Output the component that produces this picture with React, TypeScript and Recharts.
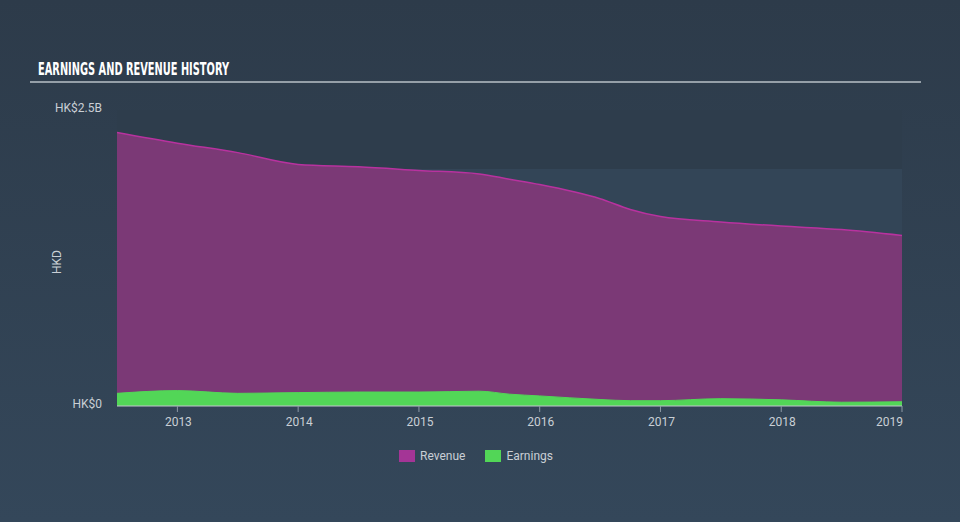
import React from 'react';
import { AreaChart, Area, XAxis, YAxis, CartesianGrid, Legend } from 'recharts';

// half-year points, values in HK$ billions
const periods = [2012.5, 2013, 2013.5, 2014, 2014.5, 2015, 2015.5, 2015.75, 2016, 2016.5, 2016.75, 2017, 2017.5, 2018, 2018.5, 2019];
const revenue = [2.31, 2.22, 2.14, 2.04, 2.02, 1.99, 1.96, 1.915, 1.87, 1.75, 1.66, 1.6, 1.555, 1.52, 1.49, 1.44];
const earnings = [0.107, 0.13, 0.107, 0.113, 0.118, 0.118, 0.125, 0.1, 0.085, 0.055, 0.045, 0.045, 0.062, 0.052, 0.032, 0.036];
const yearTicks = [2013, 2014, 2015, 2016, 2017, 2018, 2019];
const valueTicks = [0, 2.5];
const valueLabels = ['HK$0', 'HK$2.5B'];
const Y_MAX = 2.5;
const BAND_FROM = 2.0; // darker band at top of plot

const chartData = periods.map((t, i) => ({ t, revenue: revenue[i], earnings: earnings[i] }));

const REVENUE_FILL = '#7b3976';
const REVENUE_LINE = '#b8329f';
const EARNINGS_FILL = '#52d657';
const TEXT = '#c9cfd5';
const FONT = 'Roboto, "Open Sans", sans-serif';

const XTick = (props: any) => {
  const { x, y, payload, index } = props;
  const last = index === yearTicks.length - 1;
  return (
    <text x={x + 1} y={y + 12} textAnchor={last ? 'end' : 'middle'} fill={TEXT} fontSize={12} fontFamily={FONT}>
      {payload.value}
    </text>
  );
};

const YTick = (props: any) => {
  const { x, y, payload } = props;
  const i = valueTicks.indexOf(payload.value);
  return (
    <text x={x - 13} y={y + 2} textAnchor="end" fill={TEXT} fontSize={12} fontFamily={FONT}>
      {valueLabels[i]}
    </text>
  );
};

const LegendBox = () => (
  <div style={{ display: 'flex', justifyContent: 'center', alignItems: 'center', fontFamily: FONT, fontSize: 12, color: TEXT, paddingRight: 8 }}>
    <span style={{ width: 16, height: 12, background: '#a43596', display: 'inline-block', marginRight: 5 }} />
    <span style={{ marginRight: 20 }}>Revenue</span>
    <span style={{ width: 16, height: 12, background: EARNINGS_FILL, display: 'inline-block', marginRight: 5 }} />
    <span>Earnings</span>
  </div>
);

export default function App() {
  return (
    <div style={{ position: 'relative', width: 960, height: 522, background: 'linear-gradient(180deg, #2d3b4a 0%, #34475a 100%)' }}>
      <style>{`body{margin:0}`}</style>
      <svg width={960} height={100} style={{ position: 'absolute', left: 0, top: 0 }}>
        <text x={38} y={75} fill="#ffffff" fontSize={18} fontWeight="bold" fontFamily='"Liberation Sans Narrow", "DejaVu Sans Condensed", sans-serif' textLength={191} lengthAdjust="spacingAndGlyphs">
          EARNINGS AND REVENUE HISTORY
        </text>
        <line x1={30} x2={921} y1={82} y2={82} stroke="#b9c0c7" strokeWidth={1.5} />
      </svg>
      <div style={{ position: 'absolute', left: 0, top: 0 }}>
        <AreaChart width={960} height={522} data={chartData} margin={{ top: 110, right: 58, left: 0, bottom: 86 }}>
          <CartesianGrid
            vertical={false}
            stroke="none"
            horizontalFill={['#2e3d4c', '#334557']}
            fillOpacity={1}
            horizontalCoordinatesGenerator={(args: any) => {
              const o = args.offset;
              const toY = (v: number) => o.top + (1 - v / Y_MAX) * o.height;
              return [toY(Y_MAX), toY(BAND_FROM)];
            }}
          />
          <XAxis
            dataKey="t"
            type="number"
            domain={[2012.5, 2019]}
            ticks={yearTicks}
            tick={<XTick />}
            height={30}
            stroke="#c0c6cc"
            tickLine={{ stroke: '#8d99a5' }}
            tickSize={6}
            allowDataOverflow
          />
          <YAxis
            type="number"
            domain={[0, Y_MAX]}
            ticks={valueTicks}
            tick={<YTick />}
            width={117}
            axisLine={false}
            tickLine={false}
            tickSize={0}
            label={{
              content: () => (
                <text x={61} y={262} transform="rotate(-90 61 262)" textAnchor="middle" fill={TEXT} fontSize={12} fontFamily={FONT}>
                  HKD
                </text>
              ),
            }}
          />
          <Legend
            layout="horizontal"
            verticalAlign="middle"
            align="center"
            content={<LegendBox />}
            wrapperStyle={{ position: 'absolute', top: 449, left: 0, width: 960 }}
          />
          <Area type="monotone" dataKey="revenue" stroke={REVENUE_LINE} strokeWidth={1.5} fill={REVENUE_FILL} fillOpacity={1} isAnimationActive={false} />
          <Area type="monotone" dataKey="earnings" stroke={EARNINGS_FILL} strokeWidth={1} fill={EARNINGS_FILL} fillOpacity={1} isAnimationActive={false} />
        </AreaChart>
      </div>
    </div>
  );
}
